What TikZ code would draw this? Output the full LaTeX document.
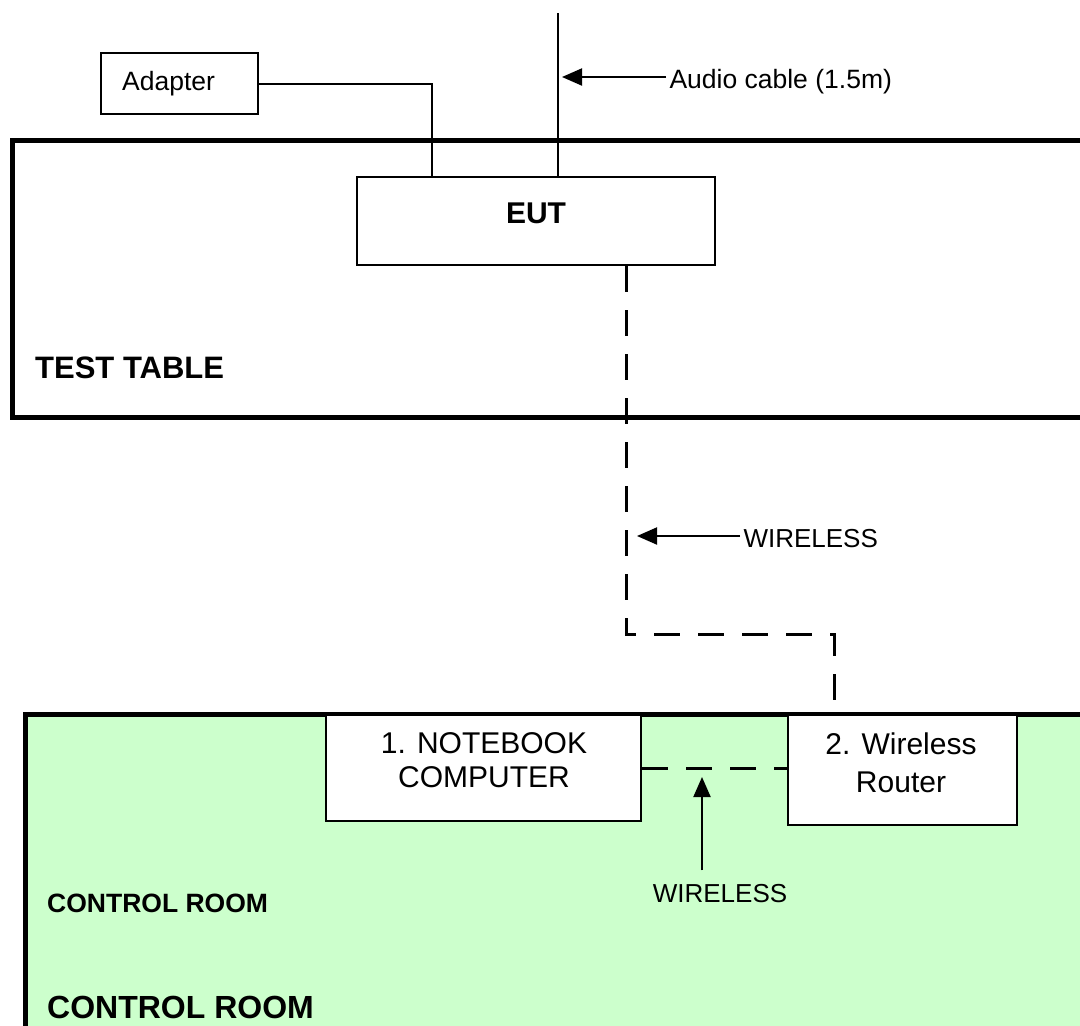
\documentclass[tikz,border=0pt]{standalone}
\usepackage{fontspec}
\setmainfont{Liberation Sans}
\usetikzlibrary{arrows.meta}
\definecolor{roomgreen}{HTML}{CCFFCC}
\newcommand{\fsz}[1]{\fontsize{#1pt}{#1pt}\selectfont}
\tikzset{
    box/.style={draw,fill=white,line width=2pt,inner sep=0pt},
    wall/.style={line width=5pt},
    cable/.style={line width=2pt},
    link/.style={line width=3pt,dash pattern=on 26pt off 18pt},
    pointer/.style={line width=2pt,-{Triangle[length=20pt,width=17pt]}},
}
\begin{document}
\begin{tikzpicture}[x=1pt,y=-1pt]
        \clip(0,0)rectangle(1080,1026);
        % rooms
        \draw[wall](12.5,140)rectangle(1100,417);
        \draw[wall,fill=roomgreen](25,714)rectangle(1100,1040);
        \node[anchor=west,inner sep=0pt,font=\bfseries\fsz{31}](tabletxt)at(35,368){TEST TABLE};
        \node[anchor=west,inner sep=0pt,font=\bfseries\fsz{26.5}](roomtxt)at(47,903){CONTROL ROOM};
        \node[anchor=west,inner sep=0pt,font=\bfseries\fsz{32}](roomtxtb)at(47,1007){CONTROL ROOM};
        % equipment
        \node[box,minimum width=157pt,minimum height=61pt](adapter)at(179.5,83.5){};
        \node[anchor=base west,inner sep=0pt,font=\fsz{26.5}](adaptertxt)at(122,90){Adapter};
        \node[box,minimum width=358pt,minimum height=88pt](eut)at(536,221){};
        \node[anchor=base,inner sep=0pt,font=\bfseries\fsz{30}](euttxt)at(536,223){EUT};
        \node[box,minimum width=315pt,minimum height=106pt](notebook)at(483.5,768){};
        \node[anchor=north,inner sep=0pt,align=center,font=\fontsize{30pt}{34pt}\selectfont](notebooktxt)at(484,732){1. NOTEBOOK\\COMPUTER};
        \node[box,minimum width=229pt,minimum height=110pt](router)at(902.5,770){};
        \node[anchor=north,inner sep=0pt,align=center,font=\fontsize{30pt}{38pt}\selectfont](routertxt)at(901,733){2. Wireless\\Router};
        % cables
        \coordinate(plug)at(432,177);
        \draw[cable](adapter.east)-|(plug);
        \coordinate(audiotop)at(558,13);
        \draw[cable](audiotop)--(audiotop|-eut.north);
        \draw[link]([xshift=90pt]eut.south)--++(0,368)-|([xshift=-68.5pt]router.north);
        \draw[link](notebook.east)--(notebook.east-|router.west);
        % labels
        \node[anchor=base west,font=\fsz{26.5}](audiotxt)at(666,88){Audio cable (1.5m)};
        \coordinate(audiotip)at(562,77);
        \draw[pointer](audiotxt.west|-audiotip)--(audiotip);
        \node[anchor=base west,font=\fsz{26}](wltxt)at(740,547){WIRELESS};
        \coordinate(wltip)at(637,536);
        \draw[pointer](wltxt.west|-wltip)--(wltip);
        \node[anchor=base,font=\fsz{26}](wltxtb)at(720,902){WIRELESS};
        \coordinate(wltipb)at(702,777);
        \draw[pointer]([yshift=10pt]wltxtb.north-|wltipb)--(wltipb);
    \end{tikzpicture}
\end{document}
